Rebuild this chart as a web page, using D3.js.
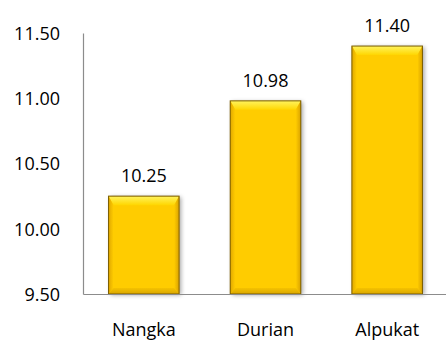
<!DOCTYPE html>
<html>
<head>
<meta charset="utf-8">
<script src="https://cdn.jsdelivr.net/npm/d3@7"></script>
<style>
  body { margin: 0; background: #fff; }
  text { font-family: "Open Sans", "Noto Sans", sans-serif; fill: #000; }
</style>
</head>
<body>
<svg id="chart"></svg>
<script>
const categories = ["Nangka", "Durian", "Alpukat"];
const values = [10.25, 10.98, 11.40];
const yTicks = [9.5, 10.0, 10.5, 11.0, 11.5];

const W = 446, H = 340;
const margin = { top: 33, right: -2, bottom: 46, left: 83 },
  width = W - margin.left - margin.right,
  height = H - margin.top - margin.bottom;

const svgRoot = d3.select("#chart").attr("width", W).attr("height", H);

const defs = svgRoot.append("defs");
const sh = defs.append("filter").attr("id", "shadow")
  .attr("x", "-20%").attr("y", "-20%").attr("width", "150%").attr("height", "140%");
sh.append("feDropShadow").attr("dx", 2).attr("dy", 1).attr("stdDeviation", 2)
  .attr("flood-color", "#000").attr("flood-opacity", 0.35);

function grad(id, x2, y2, stops) {
  const g = defs.append("linearGradient").attr("id", id)
    .attr("x1", 0).attr("y1", 0).attr("x2", x2).attr("y2", y2);
  stops.forEach(([o, c]) => g.append("stop").attr("offset", o).attr("stop-color", c));
}
grad("gTop", 0, 1, [["0%", "#fff45e"], ["100%", "#ffd600"]]);
grad("gLeft", 1, 0, [["0%", "#e0a800"], ["100%", "#ffcc00"]]);
grad("gRight", 1, 0, [["0%", "#ffcc00"], ["100%", "#d9a200"]]);
grad("gBot", 0, 1, [["0%", "#f5c200"], ["100%", "#d9a600"]]);

const svg = svgRoot.append("g")
  .attr("transform", `translate(${margin.left},${margin.top})`);

const x = d3.scaleBand().domain(categories).range([0, width]).paddingInner(0.42).paddingOuter(0.21);
const y = d3.scaleLinear().domain([9.5, 11.5]).range([height, 0]);

// y axis
const yAxis = svg.append("g").call(d3.axisLeft(y).tickValues(yTicks).tickSize(0).tickPadding(23).tickFormat(d3.format(".2f")));
yAxis.select(".domain").attr("stroke", "#8c8c8c").attr("stroke-width", 1.2);
yAxis.selectAll("text").style("font-size", "18px").attr("dy", "0.35em");

// bars
const bars = svg.selectAll(".bar").data(categories).enter().append("g").attr("class", "bar");

bars.each(function (c, i) {
  const g = d3.select(this);
  const x0 = x(c), w = x.bandwidth();
  const y0 = y(values[i]), y1 = y(9.5);
  const bt = 9, bs = 5, bb = 6;
  g.append("rect").attr("x", x0).attr("y", y0).attr("width", w).attr("height", y1 - y0)
    .attr("fill", "#ffcc00").attr("filter", "url(#shadow)");
  g.append("polygon").attr("points", [[x0, y0], [x0 + w, y0], [x0 + w - bs, y0 + bt], [x0 + bs, y0 + bt]].join(" "))
    .attr("fill", "url(#gTop)");
  g.append("polygon").attr("points", [[x0, y0], [x0 + bs, y0 + bt], [x0 + bs, y1 - bb], [x0, y1]].join(" "))
    .attr("fill", "url(#gLeft)");
  g.append("polygon").attr("points", [[x0 + w, y0], [x0 + w - bs, y0 + bt], [x0 + w - bs, y1 - bb], [x0 + w, y1]].join(" "))
    .attr("fill", "url(#gRight)");
  g.append("polygon").attr("points", [[x0, y1], [x0 + bs, y1 - bb], [x0 + w - bs, y1 - bb], [x0 + w, y1]].join(" "))
    .attr("fill", "url(#gBot)");
  g.append("rect").attr("x", x0).attr("y", y0).attr("width", w).attr("height", y1 - y0)
    .attr("fill", "none").attr("stroke", "#7a5c00").attr("stroke-width", 1);
});

// value labels
svg.selectAll(".val").data(categories).enter().append("text")
  .attr("class", "val")
  .attr("x", (d) => x(d) + x.bandwidth() / 2)
  .attr("y", (d, i) => y(values[i]) - 14)
  .attr("text-anchor", "middle")
  .style("font-size", "18px")
  .text((d, i) => values[i].toFixed(2));

// x axis
const xAxis = svg.append("g").attr("transform", `translate(0,${height})`)
  .call(d3.axisBottom(x).tickSize(0).tickPadding(29));
xAxis.select(".domain").attr("stroke", "#8c8c8c").attr("stroke-width", 1.2);
xAxis.selectAll("text").style("font-size", "18px");
</script>
</body>
</html>
